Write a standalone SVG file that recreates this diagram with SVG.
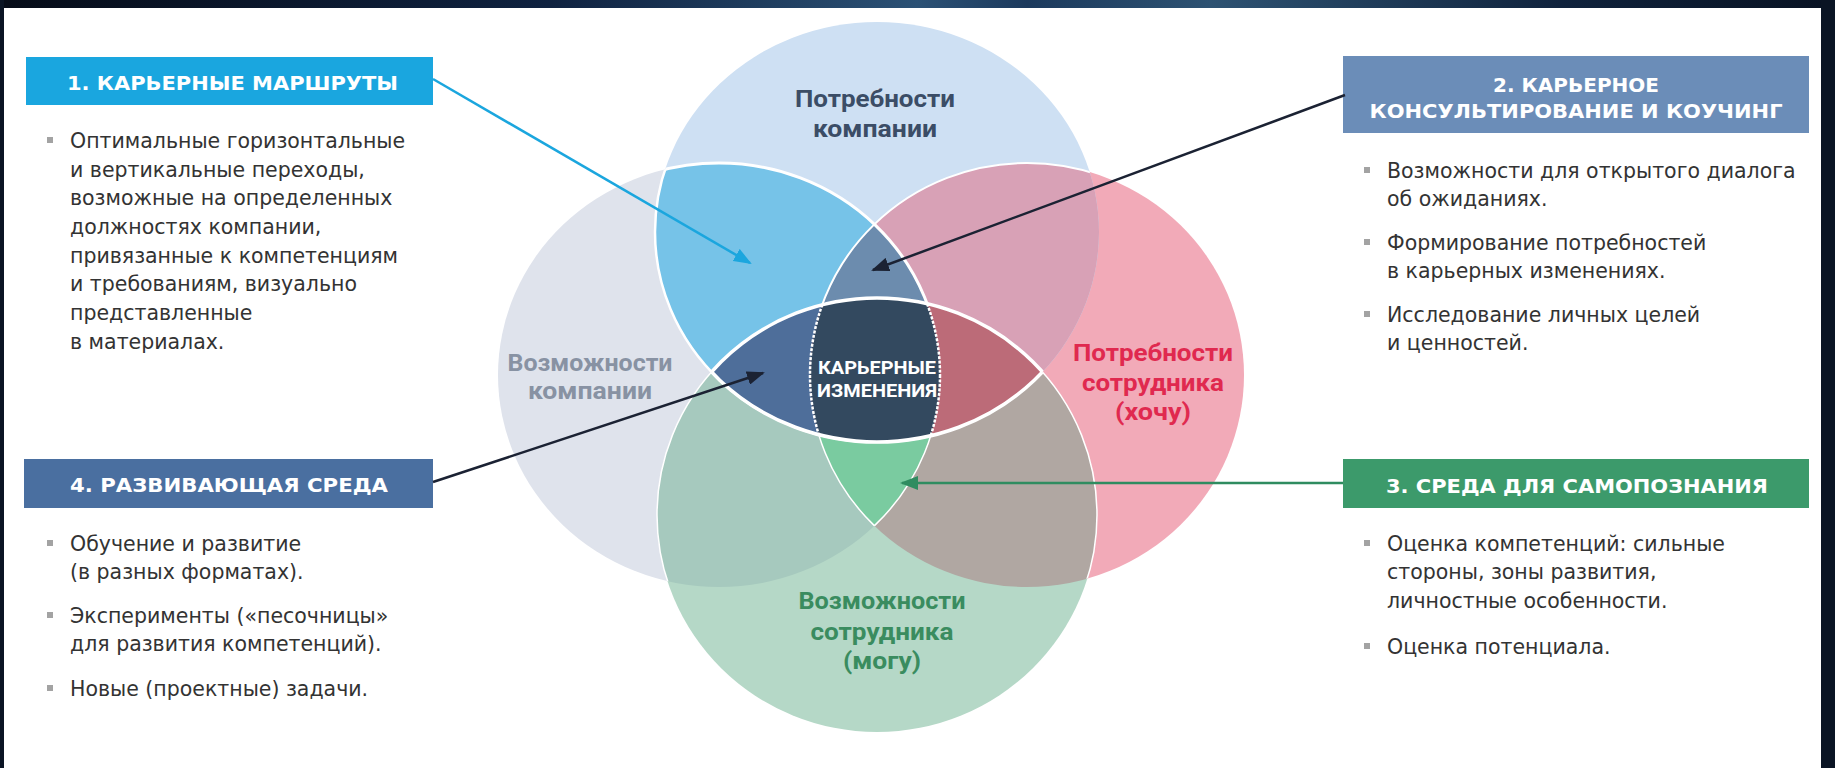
<svg xmlns="http://www.w3.org/2000/svg" width="1835" height="768" viewBox="0 0 1835 768">
<defs>
  <linearGradient id="topbar" x1="0" y1="0" x2="1" y2="0">
    <stop offset="0" stop-color="#060c18"/>
    <stop offset="0.3" stop-color="#0f2240"/>
    <stop offset="0.5" stop-color="#2b5175"/>
    <stop offset="0.56" stop-color="#1c3a5d"/>
    <stop offset="0.66" stop-color="#2d5272"/>
    <stop offset="0.85" stop-color="#10233d"/>
    <stop offset="1" stop-color="#081222"/>
  </linearGradient>
  <clipPath id="cT"><ellipse cx="877" cy="232" rx="222" ry="210"/></clipPath>
  <clipPath id="cL"><ellipse cx="719" cy="375" rx="221" ry="212"/></clipPath>
  <clipPath id="cR"><ellipse cx="1027" cy="375" rx="217" ry="212"/></clipPath>
  <clipPath id="cB"><ellipse cx="877" cy="515" rx="220" ry="217"/></clipPath>
  <marker id="mCyan" markerUnits="userSpaceOnUse" markerWidth="18" markerHeight="14" refX="16" refY="7" orient="auto">
    <path d="M0,0 L18,7 L0,14 Z" fill="#1ba6de"/>
  </marker>
  <marker id="mDark" markerUnits="userSpaceOnUse" markerWidth="18" markerHeight="14" refX="16" refY="7" orient="auto">
    <path d="M0,0 L18,7 L0,14 Z" fill="#1b2233"/>
  </marker>
  <marker id="mGreen" markerUnits="userSpaceOnUse" markerWidth="18" markerHeight="14" refX="16" refY="7" orient="auto">
    <path d="M0,0 L18,7 L0,14 Z" fill="#2f8c60"/>
  </marker>
</defs>
<style>
  .hdr{font-family:"DejaVu Sans","Liberation Sans",sans-serif;font-weight:bold;font-size:20px;fill:#ffffff}
  .body{font-family:"DejaVu Sans","Liberation Sans",sans-serif;font-size:20.5px;fill:#333333}
  .lbl{font-family:Roboto,"Liberation Sans",sans-serif;font-weight:bold;font-size:24px;text-anchor:middle}
  .ctr{font-family:Roboto,"Liberation Sans",sans-serif;font-weight:bold;font-size:18px;text-anchor:middle;fill:#ffffff}
  .bul{fill:#a3a3a3}
  .wl{fill:none;stroke:#ffffff}
  .conn{fill:none;stroke-width:2.5}
</style>

<rect x="0" y="0" width="1835" height="768" fill="#ffffff"/>
<rect x="0" y="0" width="1835" height="8" fill="url(#topbar)"/>
<rect x="0" y="0" width="4" height="768" fill="#0a1424"/>
<rect x="1821" y="0" width="14" height="768" fill="#0a1424"/>

<g id="venn">
  <!-- base sets -->
  <ellipse id="set-left" cx="719" cy="375" rx="221" ry="212" fill="#dfe3ec"/>
  <ellipse id="set-right" cx="1027" cy="375" rx="217" ry="212" fill="#f2aab8"/>
  <ellipse id="set-top" cx="877" cy="232" rx="222" ry="210" fill="#cee0f3"/>
  <ellipse id="set-bottom" cx="877" cy="515" rx="220" ry="217" fill="#b5d8c7"/>
  <!-- pairwise overlaps -->
  <g clip-path="url(#cT)"><ellipse cx="719" cy="375" rx="221" ry="212" fill="#76c3e8"/></g>
  <g clip-path="url(#cT)"><ellipse cx="1027" cy="375" rx="217" ry="212" fill="#d8a1b6"/></g>
  <g clip-path="url(#cB)"><ellipse cx="719" cy="375" rx="221" ry="212" fill="#a6c9be"/></g>
  <g clip-path="url(#cB)"><ellipse cx="1027" cy="375" rx="217" ry="212" fill="#b0a7a2"/></g>
  <!-- triple overlaps -->
  <g clip-path="url(#cT)"><g clip-path="url(#cL)"><ellipse cx="1027" cy="375" rx="217" ry="212" fill="#6c8cae"/></g></g>
  <g clip-path="url(#cB)"><g clip-path="url(#cL)"><ellipse cx="1027" cy="375" rx="217" ry="212" fill="#7acba0"/></g></g>
  <!-- upper white borders -->
  <g clip-path="url(#cT)">
    <ellipse class="wl" cx="719" cy="375" rx="221" ry="212" stroke-width="3"/>
    <ellipse class="wl" cx="1027" cy="375" rx="217" ry="212" stroke-width="2"/>
  </g>
  <g clip-path="url(#cL)"><ellipse class="wl" cx="877" cy="232" rx="222" ry="210" stroke-width="2.5"/></g>
  <!-- lower thin borders -->
  <g clip-path="url(#cL)"><ellipse class="wl" cx="877" cy="515" rx="220" ry="217" stroke-width="1.5"/></g>
  <g clip-path="url(#cR)"><ellipse class="wl" cx="877" cy="515" rx="220" ry="217" stroke-width="1.5"/></g>
  <g clip-path="url(#cB)"><g clip-path="url(#cR)"><ellipse class="wl" cx="719" cy="375" rx="221" ry="212" stroke-width="1.5"/></g></g>
  <g clip-path="url(#cB)"><g clip-path="url(#cL)"><ellipse class="wl" cx="1027" cy="375" rx="217" ry="212" stroke-width="1.5"/></g></g>
  <!-- central lens: career changes -->
  <g id="career-changes">
    <g clip-path="url(#cT)">
      <ellipse cx="877" cy="515" rx="220" ry="217" fill="#4e6e9a"/>
      <g clip-path="url(#cR)">
        <ellipse cx="877" cy="515" rx="220" ry="217" fill="#bc6b78"/>
        <g clip-path="url(#cL)"><ellipse cx="877" cy="515" rx="220" ry="217" fill="#33495f"/></g>
      </g>
    </g>
    <g clip-path="url(#cB)"><ellipse class="wl" cx="877" cy="232" rx="222" ry="210" stroke-width="3.5"/></g>
    <g clip-path="url(#cT)"><ellipse class="wl" cx="877" cy="515" rx="220" ry="217" stroke-width="3.5"/></g>
    <g clip-path="url(#cT)"><g clip-path="url(#cB)">
      <ellipse class="wl" cx="719" cy="375" rx="221" ry="212" stroke-width="2.5" stroke-dasharray="3 1.5"/>
      <ellipse class="wl" cx="1027" cy="375" rx="217" ry="212" stroke-width="2.5" stroke-dasharray="3 1.5"/>
    </g></g>
    <text class="ctr" x="877" y="374" textLength="118" lengthAdjust="spacingAndGlyphs">КАРЬЕРНЫЕ</text>
    <text class="ctr" x="877" y="397" textLength="120" lengthAdjust="spacingAndGlyphs">ИЗМЕНЕНИЯ</text>
  </g>
</g>

<g id="label-company-needs" class="lbl" fill="#3b4d66">
  <text x="875" y="107" textLength="160" lengthAdjust="spacingAndGlyphs">Потребности</text>
  <text x="875" y="137" textLength="124" lengthAdjust="spacingAndGlyphs">компании</text>
</g>
<g id="label-company-opportunities" class="lbl" fill="#8892a3">
  <text x="590" y="371" textLength="165" lengthAdjust="spacingAndGlyphs">Возможности</text>
  <text x="590" y="399" textLength="124" lengthAdjust="spacingAndGlyphs">компании</text>
</g>
<g id="label-employee-needs" class="lbl" fill="#e0294f">
  <text x="1153" y="361" textLength="160" lengthAdjust="spacingAndGlyphs">Потребности</text>
  <text x="1153" y="391" textLength="142" lengthAdjust="spacingAndGlyphs">сотрудника</text>
  <text x="1153" y="420" textLength="76" lengthAdjust="spacingAndGlyphs">(хочу)</text>
</g>
<g id="label-employee-opportunities" class="lbl" fill="#3a8c5f">
  <text x="882" y="609" textLength="167" lengthAdjust="spacingAndGlyphs">Возможности</text>
  <text x="882" y="640" textLength="143" lengthAdjust="spacingAndGlyphs">сотрудника</text>
  <text x="882" y="669" textLength="78" lengthAdjust="spacingAndGlyphs">(могу)</text>
</g>

<g id="box1">
  <rect x="26" y="57" width="407" height="48" fill="#1aa6df"/>
  <text class="hdr" x="67" y="90" textLength="331" lengthAdjust="spacingAndGlyphs">1. КАРЬЕРНЫЕ МАРШРУТЫ</text>
  <rect class="bul" x="47" y="137" width="6" height="6"/>
  <g class="body">
    <text x="70" y="148">Оптимальные горизонтальные</text>
    <text x="70" y="177">и вертикальные переходы,</text>
    <text x="70" y="205">возможные на определенных</text>
    <text x="70" y="234">должностях компании,</text>
    <text x="70" y="263">привязанные к компетенциям</text>
    <text x="70" y="291">и требованиям, визуально</text>
    <text x="70" y="320">представленные</text>
    <text x="70" y="349">в материалах.</text>
  </g>
</g>

<g id="box2">
  <rect x="1343" y="56" width="466" height="77" fill="#6b8db8"/>
  <text class="hdr" x="1576" y="92" text-anchor="middle">2. КАРЬЕРНОЕ</text>
  <text class="hdr" x="1576" y="118" text-anchor="middle" textLength="413" lengthAdjust="spacingAndGlyphs">КОНСУЛЬТИРОВАНИЕ И КОУЧИНГ</text>
  <rect class="bul" x="1364" y="167" width="6" height="6"/>
  <rect class="bul" x="1364" y="239" width="6" height="6"/>
  <rect class="bul" x="1364" y="311" width="6" height="6"/>
  <g class="body">
    <text x="1387" y="178">Возможности для открытого диалога</text>
    <text x="1387" y="206">об ожиданиях.</text>
    <text x="1387" y="250">Формирование потребностей</text>
    <text x="1387" y="278">в карьерных изменениях.</text>
    <text x="1387" y="322">Исследование личных целей</text>
    <text x="1387" y="350">и ценностей.</text>
  </g>
</g>

<g id="box3">
  <rect x="1343" y="459" width="466" height="49" fill="#3c9a6b"/>
  <text class="hdr" x="1577" y="493" text-anchor="middle" textLength="382" lengthAdjust="spacingAndGlyphs">3. СРЕДА ДЛЯ САМОПОЗНАНИЯ</text>
  <rect class="bul" x="1364" y="540" width="6" height="6"/>
  <rect class="bul" x="1364" y="643" width="6" height="6"/>
  <g class="body">
    <text x="1387" y="551">Оценка компетенций: сильные</text>
    <text x="1387" y="579">стороны, зоны развития,</text>
    <text x="1387" y="608">личностные особенности.</text>
    <text x="1387" y="654">Оценка потенциала.</text>
  </g>
</g>

<g id="box4">
  <rect x="24" y="459" width="409" height="49" fill="#4a6fa0"/>
  <text class="hdr" x="70" y="492" textLength="318" lengthAdjust="spacingAndGlyphs">4. РАЗВИВАЮЩАЯ СРЕДА</text>
  <rect class="bul" x="47" y="540" width="6" height="6"/>
  <rect class="bul" x="47" y="612" width="6" height="6"/>
  <rect class="bul" x="47" y="685" width="6" height="6"/>
  <g class="body">
    <text x="70" y="551">Обучение и развитие</text>
    <text x="70" y="579">(в разных форматах).</text>
    <text x="70" y="623">Эксперименты («песочницы»</text>
    <text x="70" y="651">для развития компетенций).</text>
    <text x="70" y="696">Новые (проектные) задачи.</text>
  </g>
</g>

<g id="connectors">
  <line class="conn" x1="433" y1="79" x2="750" y2="263" stroke="#1ba6de" marker-end="url(#mCyan)"/>
  <line class="conn" x1="1345" y1="95" x2="873" y2="270" stroke="#1b2233" marker-end="url(#mDark)"/>
  <line class="conn" x1="1343" y1="483" x2="902" y2="483" stroke="#2f8c60" marker-end="url(#mGreen)"/>
  <line class="conn" x1="433" y1="482" x2="763" y2="373" stroke="#1b2233" marker-end="url(#mDark)"/>
</g>
</svg>
